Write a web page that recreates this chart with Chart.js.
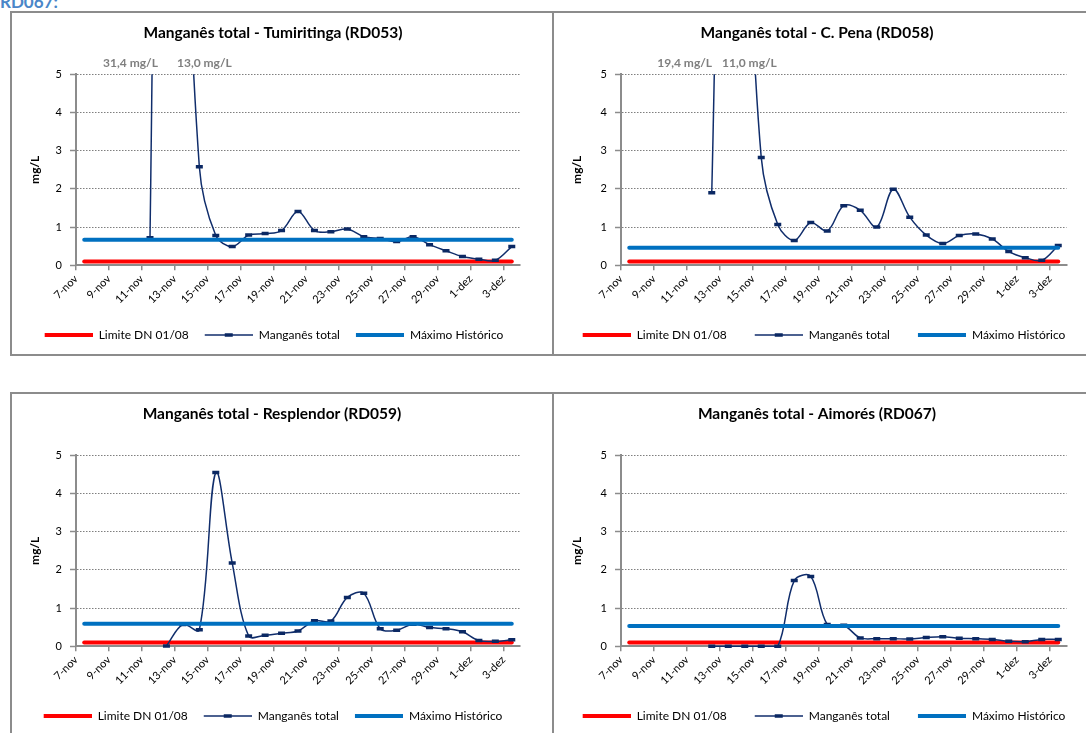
<!DOCTYPE html>
<html lang="pt">
<head>
<meta charset="utf-8">
<title>Manganês total</title>
<script src="https://cdn.jsdelivr.net/npm/chart.js@4.4.1/dist/chart.umd.min.js"></script>
<style>
  html, body { margin: 0; padding: 0; background: #fff; overflow: hidden; }
  body { width: 1086px; height: 733px; position: relative; font-family: Lato, sans-serif; }
  .heading { position: absolute; left: 0; top: -7px; font: bold 17px Lato, sans-serif; line-height: 17px; color: #4a86c8; }
  .panel { position: absolute; width: 540px; height: 341px; border: 2px solid #8c8c8c; background: #fff; }
  .panel canvas { display: block; }
</style>
</head>
<body>
<div class="heading">RD067:</div>
<div class="panel" style="left:10px; top:11px"><canvas id="chartRD053" width="540" height="341"></canvas></div>
<div class="panel" style="left:552px; top:11px"><canvas id="chartRD058" width="540" height="341"></canvas></div>
<div class="panel" style="left:10px; top:392px"><canvas id="chartRD059" width="540" height="341"></canvas></div>
<div class="panel" style="left:552px; top:392px"><canvas id="chartRD067" width="540" height="341"></canvas></div>

<script>
// dias de coleta (eixo de datas, um dia por posição)
const days = ['7-nov', '8-nov', '9-nov', '10-nov', '11-nov', '12-nov', '13-nov', '14-nov', '15-nov',
    '16-nov', '17-nov', '18-nov', '19-nov', '20-nov', '21-nov', '22-nov', '23-nov', '24-nov', '25-nov',
    '26-nov', '27-nov', '28-nov', '29-nov', '30-nov', '1-dez', '2-dez', '3-dez'];

// Manganês total (mg/L) - null = sem coleta
const tumiritinga = [null, null, null, null, 0.72, 31.4, 13.0, 2.58, 0.78, 0.49, 0.79, 0.83, 0.91, 1.41,
    0.91, 0.88, 0.95, 0.75, 0.70, 0.62, 0.75, 0.54, 0.38, 0.23, 0.16, 0.13, 0.49];
const cPena = [null, null, null, null, null, 1.90, 19.4, 11.0, 2.82, 1.07, 0.65, 1.12, 0.90, 1.56,
    1.44, 1.00, 1.99, 1.26, 0.79, 0.57, 0.78, 0.82, 0.69, 0.36, 0.20, 0.13, 0.52];
const resplendor = [null, null, null, null, null, 0.01, 0.57, 0.43, 4.55, 2.18, 0.27, 0.29, 0.34, 0.40,
    0.67, 0.66, 1.28, 1.39, 0.46, 0.42, 0.58, 0.49, 0.46, 0.38, 0.15, 0.13, 0.17];
const aimores = [null, null, null, null, null, 0.00, 0.00, 0.00, 0.00, 0.00, 1.72, 1.83, 0.57, 0.55,
    0.22, 0.20, 0.20, 0.19, 0.23, 0.25, 0.21, 0.20, 0.18, 0.13, 0.12, 0.18, 0.18];

// limite legal (DN COPAM/CERH 01/08) e máximo histórico de cada estação
const limiteDN = 0.1;
const maximoHistorico = [0.67, 0.46, 0.59, 0.53];

const yMax = 5;
const yStep = 1;

const axisGray = '#8c8c8c';
const gridGray = '#7f7f7f';

Chart.defaults.font.family = 'Lato, sans-serif';
Chart.defaults.animation = false;

// small line swatches for the legend (gap = blank space before the swatch)
function lineIcon(color, width, gap, marker) {
    const c = document.createElement('canvas');
    c.width = 48 + gap;
    c.height = 8;
    const g = c.getContext('2d');
    g.strokeStyle = color;
    g.lineWidth = width;
    g.beginPath();
    g.moveTo(gap, 4);
    g.lineTo(gap + 48, 4);
    g.stroke();
    if (marker) {
        g.fillStyle = marker;
        g.fillRect(gap + 20, 2.25, 8, 3.5);
    }
    return c;
}

// writes the value of points that go above the axis (e.g. "31,4 mg/L")
const peakLabels = {
    id: 'peakLabels',
    afterDatasetsDraw(chart, args, opts) {
        const { ctx, chartArea, scales } = chart;
        const pts = chart.data.datasets[1].data;
        ctx.save();
        ctx.font = 'bold 12px Lato, sans-serif';
        ctx.fillStyle = '#7f7f7f';
        ctx.textBaseline = 'alphabetic';
        (opts.items || []).forEach(item => {
            const v = pts[item.index].y;
            ctx.textAlign = item.align;
            ctx.fillText(v.toFixed(1).replace('.', ',') + ' mg/L', scales.x.getPixelForValue(item.at), chartArea.top - 7);
        });
        ctx.restore();
    }
};

function toPoints(values) {
    return values.map((v, i) => ({ x: i + 0.5, y: v }));
}

function buildChart(id, station, values, maxHist, peaks, frame) {
    const ctx = document.getElementById(id);
    const gap = frame.legendGap;

    return new Chart(ctx, {
        type: 'line',
        data: {
            datasets: [
                {
                    label: 'Limite DN 01/08',
                    data: toPoints(days.map(() => limiteDN)),
                    borderColor: '#ff0000',
                    borderWidth: 4,
                    borderCapStyle: 'round',
                    pointRadius: 0,
                    order: 3,
                    legendIcon: lineIcon('#ff0000', 4, gap)
                },
                {
                    label: 'Manganês total',
                    data: toPoints(values),
                    borderColor: '#102d6b',
                    borderWidth: 1.5,
                    tension: 0.35,
                    pointStyle: 'line',
                    pointRadius: 3.5,
                    pointBorderWidth: 3.5,
                    pointBorderColor: '#0b2863',
                    pointBackgroundColor: '#0b2863',
                    clip: { left: 10, top: 0, right: 10, bottom: 6 },
                    order: 2,
                    legendIcon: lineIcon('#102d6b', 1.5, gap, '#0b2863')
                },
                {
                    label: 'Máximo Histórico',
                    data: toPoints(days.map(() => maxHist)),
                    borderColor: '#0070c0',
                    borderWidth: 4,
                    borderCapStyle: 'round',
                    pointRadius: 0,
                    order: 1,
                    legendIcon: lineIcon('#0070c0', 4, gap)
                }
            ]
        },
        options: {
            responsive: false,
            events: [],
            layout: { padding: { left: 0, top: 0, right: frame.padRight, bottom: 3 } },
            plugins: {
                title: {
                    display: true,
                    text: 'Manganês total - ' + station,
                    color: '#000',
                    font: { size: 15.5, weight: 'bold' },
                    padding: { top: 11, bottom: 31.7 }
                },
                legend: {
                    position: 'bottom',
                    labels: {
                        usePointStyle: true,
                        pointStyleWidth: 48 + gap,
                        boxHeight: 8,
                        padding: 14,
                        color: '#000',
                        font: { size: 12 },
                        generateLabels: (chart) => chart.data.datasets.map((ds, i) => ({
                            text: ds.label,
                            pointStyle: ds.legendIcon,
                            datasetIndex: i,
                            hidden: false,
                            lineWidth: 0,
                            fontColor: '#000'
                        }))
                    }
                },
                tooltip: { enabled: false },
                peakLabels: { items: peaks }
            },
            scales: {
                x: {
                    type: 'linear',
                    min: 0,
                    max: days.length,
                    grid: { drawOnChartArea: false, tickLength: 5, color: axisGray, lineWidth: 1.5 },
                    border: { color: axisGray, width: 2 },
                    ticks: {
                        stepSize: 2,
                        includeBounds: false,
                        autoSkip: false,
                        minRotation: 45,
                        maxRotation: 45,
                        padding: 2,
                        color: '#000',
                        font: { size: 11 },
                        callback: (v) => days[v] ?? ''
                    },
                    afterFit: (s) => { s.height = 49.7; }
                },
                y: {
                    min: 0,
                    max: yMax,
                    grid: { color: gridGray, tickLength: 6, tickColor: axisGray, tickWidth: 1.5 },
                    border: { color: axisGray, width: 2, dash: [1.5, 1.5] },
                    ticks: { stepSize: yStep, padding: 8, color: '#000', font: { size: 11 } },
                    title: {
                        display: true,
                        text: 'mg/L',
                        color: '#000',
                        font: { size: 12, weight: 'bold' },
                        padding: { top: 16, bottom: 0 }
                    },
                    afterFit: (s) => { s.width = frame.yWidth; }
                },
                // empty right-hand column so the plot stops short of the frame
                yr: {
                    type: 'linear',
                    position: 'right',
                    grid: { display: false },
                    border: { display: false },
                    ticks: { display: false },
                    afterFit: (s) => { s.width = frame.rightSpace; }
                }
            }
        },
        plugins: [peakLabels]
    });
}

buildChart('chartRD053', 'Tumiritinga (RD053)', tumiritinga, maximoHistorico[0],
    [{ index: 5, at: 4.98, align: 'right' }, { index: 6, at: 6.14, align: 'left' }],
    { yWidth: 64, padRight: 18, rightSpace: 14, legendGap: 2 });

buildChart('chartRD058', 'C. Pena (RD058)', cPena, maximoHistorico[1],
    [{ index: 6, at: 5.52, align: 'right' }, { index: 7, at: 6.12, align: 'left' }],
    { yWidth: 67, padRight: 14, rightSpace: 13.5, legendGap: 14 });

buildChart('chartRD059', 'Resplendor (RD059)', resplendor, maximoHistorico[2], [],
    { yWidth: 64, padRight: 20, rightSpace: 12, legendGap: 2 });

buildChart('chartRD067', 'Aimorés (RD067)', aimores, maximoHistorico[3], [],
    { yWidth: 67, padRight: 14, rightSpace: 13.5, legendGap: 14 });
</script>
</body>
</html>
